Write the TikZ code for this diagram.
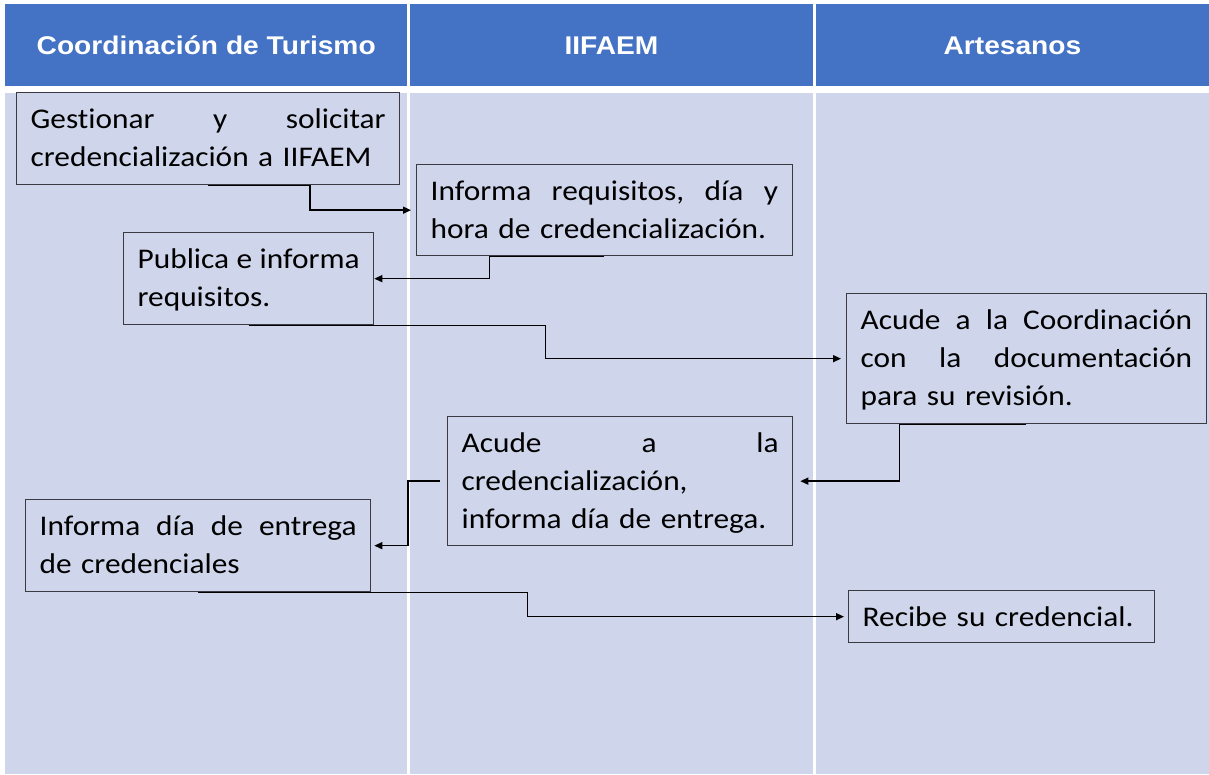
\documentclass[tikz,border=0pt]{standalone}
\usepackage{fontspec}
\usetikzlibrary{arrows.meta}
\newfontfamily\bodyf[FakeStretch=1.1, Ligatures=NoCommon]{Carlito}
\newfontfamily\headf[FakeStretch=1.1]{Liberation Sans}
\definecolor{hdr}{HTML}{4472C4}
\definecolor{bdy}{HTML}{CFD5EA}
\definecolor{bxc}{HTML}{3A3A40}
\setlength{\parindent}{0pt}
\begin{document}
\begin{tikzpicture}[x=1pt,y=-1pt,
  hcell/.style={fill=hdr, text=white, inner sep=0pt, anchor=north west, minimum height=82pt, text height=18.5pt, text depth=0pt, font=\headf\bfseries\fontsize{25.6}{30}\selectfont},
  stepbox/.style={draw=bxc, line width=1.3pt, inner xsep=14pt, inner ysep=0pt, anchor=north west, align=left, text height=36pt, font=\bodyf\fontsize{28.5}{38}\selectfont},
  conn/.style={draw=black, line width=1.4pt, -{Triangle[length=8pt,width=7pt]}}]
\useasboundingbox (0,0) rectangle (1209,774);
\fill[white] (0,0) rectangle (1209,774);
% header
\node[hcell, minimum width=402pt] (h1) at (5,4) {Coordinación de Turismo};
\node[hcell, minimum width=403.5pt] (h2) at (409.5,4) {IIFAEM};
\node[hcell, minimum width=393.5pt] (h3) at (815.5,4) {Artesanos};
% body
\fill[bdy] (5,93) rectangle (407,774);
\fill[bdy] (409.5,93) rectangle (813,774);
\fill[bdy] (815.5,93) rectangle (1209,774);
% boxes
\node[stepbox, text width=355pt, text depth=56pt] (b1) at (16,92) {Gestionar\hfill y\hfill solicitar\\credencialización a IIFAEM};
\node[stepbox, text width=347.5pt, text depth=55pt] (b2) at (416,164) {Informa\hfill requisitos,\hfill día\hfill y\\hora de credencialización.};
\node[stepbox, text width=222pt, text depth=56pt] (b3) at (123,232) {Publica\hfill e\hfill informa\\requisitos.};
\node[stepbox, text width=331.5pt, text depth=94pt] (b4) at (846,293) {Acude\hfill a\hfill la\hfill Coordinación\\con\hfill la\hfill documentación\\para su revisión.};
\node[stepbox, text width=317pt, text depth=93pt] (b5) at (447,416) {Acude\hfill a\hfill la\\credencialización,\\informa día de entrega.};
\node[stepbox, text width=317pt, text depth=56pt] (b6) at (25,499) {Informa\hfill día\hfill de\hfill entrega\\de credenciales};
\node[stepbox, text width=278pt, text depth=16pt] (b7) at (848,590) {Recibe su credencial.};
% connectors
\draw[conn, shorten >=5pt] (b1.south) -- ++(102,0) |- (b2.west);
\draw[conn] (b2.south) -- ++(-114.75,0) |- (b3.east);
\draw[conn, shorten >=5pt] (b3.south) -- ++(297,0) |- (b4.west);
\draw[conn, shorten >=7pt] (b4.south) -- ++(-127,0) |- (b5.east);
\draw[conn, shorten <=7pt, shorten >=3pt] (b5.west) -- ++(-39,0) |- (b6.east);
\draw[conn, shorten >=4pt] (b6.south) -- ++(329.5,0) |- (b7.west);
\end{tikzpicture}
\end{document}
